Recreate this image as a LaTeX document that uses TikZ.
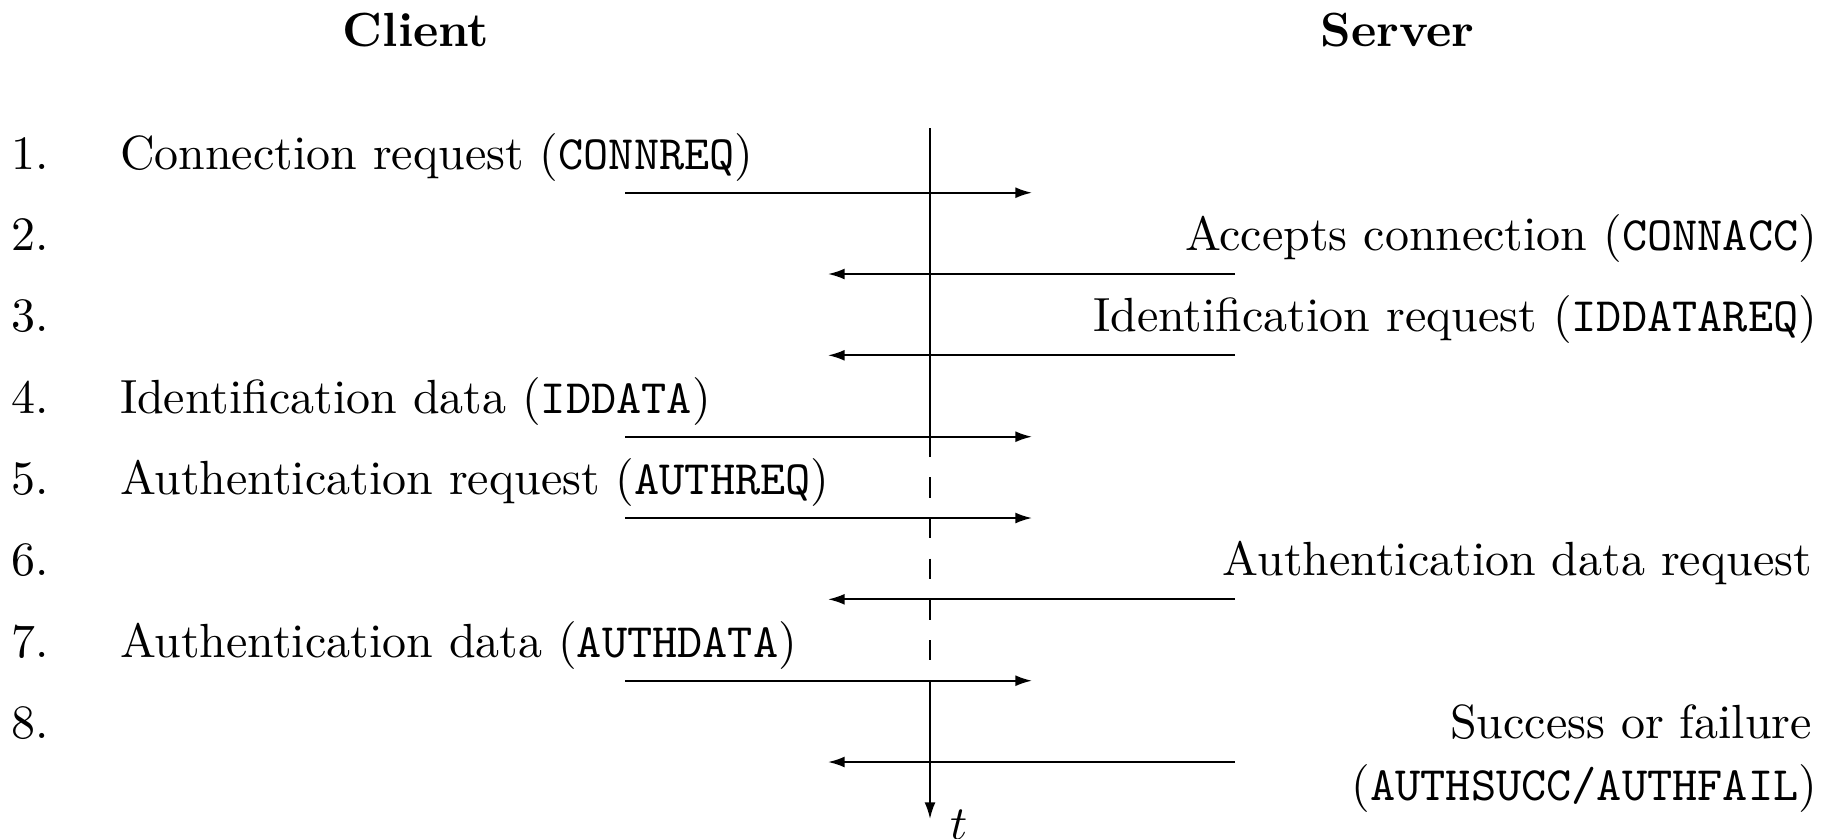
\documentclass[tikz,border=0pt]{standalone}
\usetikzlibrary{arrows.meta}
\begin{document}
\begin{tikzpicture}[x=0.21pt,y=-0.21pt,
  txt/.style={inner sep=0pt,outer sep=0pt,font=\fontsize{10.07}{12}\selectfont},
  hdr/.style={txt,font=\fontsize{10.07}{12}\selectfont\bfseries,anchor=base},
  num/.style={txt,anchor=base west},
  ctext/.style={txt,anchor=base west},
  stext/.style={txt,anchor=base east},
  msg/.style={line width=0.4pt,-{Latex[length=3.5pt,width=2.3pt]}},
  tline/.style={line width=0.4pt}]
\useasboundingbox (0,0) rectangle (1834,838);
% headers
\node[hdr] (client) at (416,46) {Client};
\node[hdr] (server) at (1397.5,46) {Server};
% row numbers
\node[num] (n1) at (11.5,169.3) {1.};
\node[num] (n2) at (11.5,250.6) {2.};
\node[num] (n3) at (11.5,331.9) {3.};
\node[num] (n4) at (11.5,413.3) {4.};
\node[num] (n5) at (11.5,494.6) {5.};
\node[num] (n6) at (11.5,575.9) {6.};
\node[num] (n7) at (11.5,657.3) {7.};
\node[num] (n8) at (11.5,738.6) {8.};
% messages text
\node[ctext] (m1) at (120,169.3) {Connection request (\texttt{CONNREQ})};
\node[stext] (m2) at (1817,250.6) {Accepts connection (\texttt{CONNACC})};
\node[stext] (m3) at (1817,331.9) {Identification request (\texttt{IDDATAREQ})};
\node[ctext] (m4) at (120,413.3) {Identification data (\texttt{IDDATA})};
\node[ctext] (m5) at (120,494.6) {Authentication request (\texttt{AUTHREQ})};
\node[stext] (m6) at (1812,575.9) {Authentication data request};
\node[ctext] (m7) at (120,657.3) {Authentication data (\texttt{AUTHDATA})};
\node[stext] (m8) at (1812,738.6) {Success or failure};
\node[stext] (m8b) at (1817,800) {(\texttt{AUTHSUCC/AUTHFAIL})};
% arrow end points
\coordinate (L1) at (625,192.7);  \coordinate (R1) at (1032,192.7);
\coordinate (L2) at (828,274.0);  \coordinate (R2) at (1235,274.0);
\coordinate (L3) at (828,355.3);  \coordinate (R3) at (1235,355.3);
\coordinate (L4) at (625,436.7);  \coordinate (R4) at (1032,436.7);
\coordinate (L5) at (625,518.0);  \coordinate (R5) at (1032,518.0);
\coordinate (L6) at (828,599.3);  \coordinate (R6) at (1235,599.3);
\coordinate (L7) at (625,680.7);  \coordinate (R7) at (1032,680.7);
\coordinate (L8) at (828,762.0);  \coordinate (R8) at (1235,762.0);
% time line
\coordinate (ttop) at (930,128);
\coordinate (td1) at (930,436.7);
\coordinate (td2) at (930,680.7);
\coordinate (tend) at (930,819);
\draw[tline] (ttop) -- (td1);
\draw[tline,dash pattern=on 4.27pt off 4.27pt] (td1) -- (td2);
\draw[msg] (td2) -- (tend);
\node[txt,anchor=base west] (tlab) at (950,839) {$t$};
% messages
\draw[msg] (L1) -- (R1);
\draw[msg] (R2) -- (L2);
\draw[msg] (R3) -- (L3);
\draw[msg] (L4) -- (R4);
\draw[msg] (L5) -- (R5);
\draw[msg] (R6) -- (L6);
\draw[msg] (L7) -- (R7);
\draw[msg] (R8) -- (L8);
\end{tikzpicture}
\end{document}
